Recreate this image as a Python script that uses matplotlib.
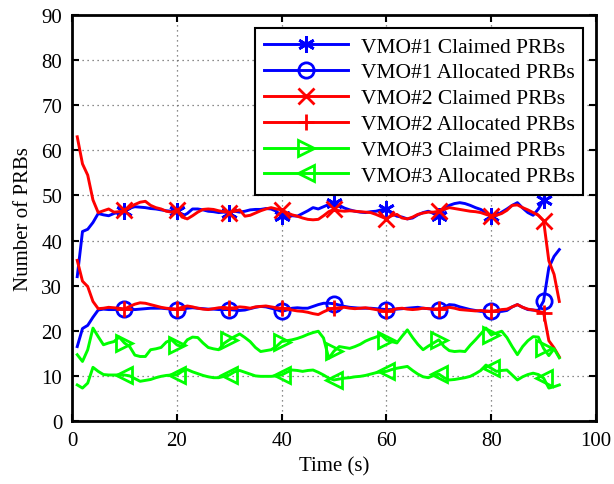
import numpy as np
import matplotlib
matplotlib.use("Agg")
import matplotlib.pyplot as plt

time_s = list(range(1, 94))

vmo1_claimed = [32, 42, 42.5, 44, 46, 45.7, 45.5, 46, 46.3, 46.5,
                47.2, 47.5, 47.4, 47.3, 47.1, 47, 46.8, 46.6, 46.5, 46.5,
                45.4, 46, 47, 47, 46.8, 46.5, 46.4, 46.2, 46.3, 46.2,
                46.5, 46.3, 46.5, 46.8, 46.9, 46.9, 47.1, 47.0, 46.5, 45.4,
                45.3, 45.5, 45.4, 46, 46.6, 47.3, 47, 47.5, 48, 48.4,
                47.8, 47.2, 46.8, 46.5, 46.3, 46.2, 46.4, 46.5, 46.8, 47,
                46, 45.4, 45.2, 44.8, 45, 45.7, 46.2, 46.5, 46, 45.4,
                46.8, 47.8, 48.2, 48.4, 48.2, 47.8, 47.3, 46.9, 46.2, 45.4,
                45.6, 46.3, 47, 47.8, 48.4, 47.2, 46.2, 45.6, 47, 49,
                np.nan, np.nan, np.nan]

vmo1_allocated = [16.5, 20.5, 21.2, 23, 24.6, 24.8, 24.7, 24.7, 24.8, 24.8,
                  24.8, 24.7, 24.8, 24.9, 25, 25, 25, 24.9, 24.8, 24.7,
                  24.8, 25, 25.1, 25, 24.9, 24.8, 24.8, 24.7, 24.7, 24.7,
                  24.6, 24.5, 24.6, 24.9, 25.2, 25.4, 25.3, 25, 24.7, 24.3,
                  24.6, 25, 25.1, 25, 25, 25.4, 25.8, 26.1, 26.1, 26,
                  25.7, 25.4, 25.2, 25.1, 25, 25, 25, 24.9, 24.8, 24.7,
                  24.7, 24.8, 24.9, 25, 25.1, 25.2, 25, 24.9, 24.8, 24.7,
                  25.2, 25.8, 25.7, 25.3, 25, 24.7, 24.5, 24.3, 24.3, 24.3,
                  24.3, 24.3, 24.5, 25.3, 25.8, 25.2, 24.7, 24.6, 24.5, 26.6,
                  34, 36.5, 38]

vmo2_claimed = [63, 57, 54.5, 49, 46.2, 46.6, 47, 46.3, 46.4, 46.7,
                47.3, 48, 48.5, 48.7, 47.8, 47.3, 47, 46.5, 46.3, 46.7,
                45.2, 44.8, 45.5, 46.3, 46.9, 47, 46.9, 46.6, 46.4, 46.2,
                46.5, 46.8, 45.4, 45.6, 46.1, 46.6, 47, 47.3, 47, 46.8,
                46.2, 45.7, 45.4, 45, 44.7, 44.6, 44.7, 45.5, 46.4, 46.9,
                46.6, 46.5, 46.6, 46.5, 46.4, 46.3, 46.2, 45.8, 45.3, 44.8,
                45.5, 45.8, 45, 44.8, 45.2, 45.8, 46.1, 46.3, 46.3, 46.5,
                46.9, 47.3, 47.1, 46.9, 46.7, 46.5, 46.4, 46.2, 45.8, 45.4,
                45.6, 46, 46.7, 47.8, 47.9, 47.3, 46.8, 46.2, 45.6, 44.4,
                35.5, 32.5, 26.5]

vmo2_allocated = [35.6, 31, 29.8, 26.5, 24.9, 25, 25.2, 25.1, 25, 24.8,
                  25.4, 25.9, 26.2, 26.1, 25.8, 25.5, 25.2, 25, 24.9, 24.8,
                  25.2, 25.5, 25.3, 25, 24.8, 24.7, 24.9, 25.1, 25.2, 25,
                  25.1, 25.3, 25.2, 25, 25.3, 25.4, 25.5, 25.3, 25.1, 25,
                  24.8, 24.6, 24.4, 24.3, 24.1, 23.8, 23.6, 24.2, 24.7, 25,
                  25.1, 25.2, 25, 24.9, 25, 25.1, 24.9, 24.7, 24.5, 24.3,
                  24.6, 24.9, 25, 24.8, 24.7, 24.8, 25, 24.9, 24.8, 24.9,
                  25, 25.2, 25, 24.7, 24.6, 24.5, 24.4, 24.5, 24.4, 24.3,
                  24.5, 24.7, 24.8, 25.3, 25.8, 25.2, 24.8, 24.6, 24.3, 24,
                  17.8, 16.2, 14.2]

vmo3_claimed = [14.7, 13.2, 15.8, 20.6, 18.7, 16.9, 17.3, 17.6, 18.6, 17.3,
                16.5, 14.6, 14.3, 14.3, 15.8, 16, 16.3, 17.5, 18, 16.9,
                16.5, 18, 18.6, 18.5, 17.3, 16.3, 16, 15.8, 17.2, 18,
                18.7, 19.3, 18.5, 17.6, 16.3, 15.4, 15.6, 15.8, 16.5, 17.6,
                17.8, 18, 18.3, 18.7, 19.2, 19.6, 19.9, 18.4, 13.9, 15.5,
                16.5, 16.3, 16.1, 16.5, 17, 17.7, 18.2, 18.6, 19.1, 18,
                17.6, 17.3, 18.8, 20.2, 18.5, 17, 15.8, 16.6, 17.3, 18,
                16.5, 15.6, 15.4, 15.5, 15.4, 16.8, 18, 19.3, 20.6, 19.1,
                19.5, 19.9, 18.5, 16.5, 14.7, 16.5, 17.8, 18.7, 18.6, 16.1,
                14.5, 16, 14]

vmo3_allocated = [8, 7.3, 8.4, 11.9, 11, 10.3, 10.2, 10.2, 10.2, 10.2,
                  10, 9.4, 8.8, 9, 9.2, 9.6, 9.9, 10.1, 10.2, 10.2,
                  11, 11.4, 10.9, 10.5, 10.1, 9.8, 9.6, 9.6, 9.9, 10.2,
                  10.9, 11.2, 10.8, 10.4, 10, 9.9, 9.9, 9.9, 10, 10.2,
                  10.8, 11.3, 11.2, 11, 11.2, 11.3, 10.8, 10.2, 9.5, 9.1,
                  9.3, 9.5, 9.6, 9.8, 9.9, 10.1, 10.4, 10.7, 10.9, 11,
                  11.4, 11.7, 11.9, 12.1, 11.2, 10.4, 9.8, 9.6, 10.1, 10.4,
                  9.6, 9.1, 9.2, 9.4, 9.6, 9.9, 10.5, 11.2, 12.4, 11.7,
                  11, 11.2, 11.3, 10.2, 9.1, 9.8, 10.3, 10.6, 10.3, 9.5,
                  7.3, 7.6, 8]

labels = ["VMO#1 Claimed PRBs", "VMO#1 Allocated PRBs",
          "VMO#2 Claimed PRBs", "VMO#2 Allocated PRBs",
          "VMO#3 Claimed PRBs", "VMO#3 Allocated PRBs"]
x_ticks = [0, 20, 40, 60, 80, 100]
y_ticks = [0, 10, 20, 30, 40, 50, 60, 70, 80, 90]

plt.rcParams['font.family'] = ['Liberation Serif', 'DejaVu Serif']

fig = plt.figure(figsize=(6.14, 4.85), dpi=100)
ax = fig.add_axes([72/614, 63/485, 524/614, 406/485])

series = [
    (vmo1_claimed, 'blue', (6, 2, 0), 'full'),
    (vmo1_allocated, 'blue', 'o', 'none'),
    (vmo2_claimed, 'red', 'x', 'full'),
    (vmo2_allocated, 'red', '+', 'full'),
    (vmo3_claimed, '#00ff00', '>', 'none'),
    (vmo3_allocated, '#00ff00', '<', 'none'),
]
for (vals, col, mk, fill), lab in zip(series, labels):
    ms = 11 if mk in ('o', '>', '<') else 12
    ax.plot(time_s, vals, color=col, lw=2.1, marker=mk, markersize=ms,
            markevery=slice(9, None, 10), markerfacecolor='none' if fill == 'none' else col,
            markeredgecolor=col, markeredgewidth=2.0, label=lab)

ax.set_xlim(0, 100)
ax.set_ylim(0, 90)
ax.set_xticks(x_ticks)
ax.set_yticks(y_ticks)
ax.tick_params(direction='in', top=True, right=True, labelsize=15, length=5, width=1.5, pad=7)
for s in ax.spines.values():
    s.set_linewidth(2)
ax.grid(True, color='#666666', linestyle=(0, (1, 3)), linewidth=0.9)
ax.set_xlabel("Time (s)", fontsize=15, labelpad=5)
ax.set_ylabel("Number of PRBs", fontsize=15, labelpad=6)

leg = ax.legend(loc='upper right', fontsize=15.5, handlelength=3.9, labelspacing=0.27,
                borderpad=0.4, handletextpad=0.6, fancybox=False, framealpha=1,
                edgecolor='black', borderaxespad=0.6)
leg.get_frame().set_linewidth(1.5)

fig.savefig("out.png", dpi=100)
